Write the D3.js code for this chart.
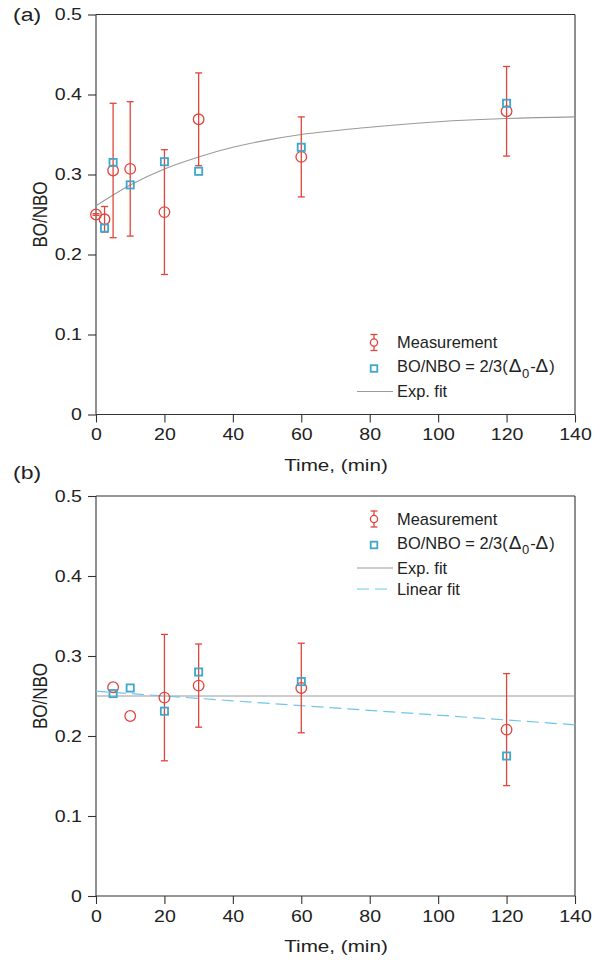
<!DOCTYPE html>
<html><head><meta charset="utf-8">
<script src="https://cdn.jsdelivr.net/npm/d3@7"></script>
<style>body{margin:0;background:#fff}svg{display:block;font-family:"Liberation Sans",Arial,Helvetica,sans-serif}</style>
</head><body><svg id="c" width="600" height="960"></svg>
<script>
// Panel (a)
const aMeasT = [0, 2.5, 5, 10, 20, 30, 60, 120];
const aMeasV = [0.25, 0.244, 0.305, 0.307, 0.253, 0.369, 0.322, 0.379];
const aMeasE = [0.001, 0.016, 0.084, 0.084, 0.078, 0.058, 0.050, 0.056];
const aCalcT = [2.5, 5, 10, 20, 30, 60, 120];
const aCalcV = [0.233, 0.315, 0.287, 0.316, 0.304, 0.334, 0.389];
const aFitT = [0, 10, 20, 30, 40, 50, 60, 80, 100, 120, 140];
const aFitV = [0.261, 0.287, 0.307, 0.322, 0.334, 0.343, 0.350, 0.359, 0.366, 0.370, 0.372];
// Panel (b)
const bMeasT = [5, 10, 20, 30, 60, 120];
const bMeasV = [0.261, 0.225, 0.248, 0.263, 0.260, 0.208];
const bMeasE = [0, 0, 0.079, 0.052, 0.056, 0.070];
const bCalcT = [5, 10, 20, 30, 60, 120];
const bCalcV = [0.253, 0.260, 0.231, 0.280, 0.268, 0.175];
const bExpT = [0, 140];
const bExpV = [0.25, 0.25];
const bLinT = [0, 140];
const bLinV = [0.256, 0.214];
// Axes
const xTicks = [0, 20, 40, 60, 80, 100, 120, 140];
const yTicks = [0, 0.1, 0.2, 0.3, 0.4, 0.5];

const RED = "#e2443b", BLUE = "#3ea7cc", GRAY = "#9a9a9a", LBLUE = "#6cc6ec", AX = "#333", TXT = "#222";
const SX = 1.2;
const svg = d3.select("#c");

function stretch(sel, k) {
  sel.each(function () {
    const t = d3.select(this);
    const x = +t.attr("x") || 0, y = +t.attr("y") || 0;
    t.attr("x", 0).attr("y", 0).attr("transform", `translate(${x},${y}) scale(${k},1)`);
  });
}

function panel(o) {
  const g = svg.append("g");
  const x = d3.scaleLinear().domain([0, 140]).range([96, 575]);
  const y = d3.scaleLinear().domain([0, 0.5]).range([o.y0, o.y0 - 400]);
  // box
  g.append("line").attr("x1", 96).attr("x2", 575).attr("y1", y(0.5)).attr("y2", y(0.5)).attr("stroke", AX).attr("stroke-width", 1.1);
  g.append("line").attr("x1", 575).attr("x2", 575).attr("y1", y(0.5)).attr("y2", y(0)).attr("stroke", AX).attr("stroke-width", 1.1);
  const xa = g.append("g").attr("transform", `translate(0,${y(0)})`)
    .call(d3.axisBottom(x).tickValues(xTicks).tickSize(8).tickPadding(6).tickFormat(d3.format("d")));
  const ya = g.append("g").attr("transform", `translate(96,0)`)
    .call(d3.axisLeft(y).tickValues(yTicks).tickSize(8).tickPadding(6).tickFormat(d => d === 0 ? "0" : d3.format(".1f")(d)));
  [xa, ya].forEach(a => {
    a.selectAll("path,line").attr("stroke", AX).attr("stroke-width", 1.1);
    a.selectAll("text").attr("font-size", 16.3).attr("fill", TXT).attr("font-family", "Liberation Sans, Arial, sans-serif");
    stretch(a.selectAll("text"), SX);
  });
  xa.select(".domain").attr("d", `M96,0H575`);
  ya.select(".domain").attr("d", `M0,${y(0.5)}V${y(0)}`);
  const xt = g.append("text").attr("x", 336).attr("y", y(0) + 56).attr("text-anchor", "middle")
    .attr("font-size", 17.2).attr("fill", TXT).text("Time, (min)");
  stretch(xt, SX);
  g.append("text").attr("transform", `translate(46.5,${(y(0) + y(0.5)) / 2}) scale(${SX},1) rotate(-90)`)
    .attr("text-anchor", "middle").attr("font-size", 17).attr("fill", TXT).text("BO/NBO");
  const lb = g.append("text").attr("x", 13).attr("y", o.labelY).attr("font-size", 18).attr("fill", TXT).text(o.label);
  stretch(lb, 1.28);

  const line = d3.line().x(d => x(d[0])).y(d => y(d[1]));
  // fits
  g.append("path").datum(d3.zip(o.fitT, o.fitV)).attr("d", line.curve(d3.curveMonotoneX))
    .attr("fill", "none").attr("stroke", GRAY).attr("stroke-width", 1.1);
  if (o.linT) {
    g.append("path").datum(d3.zip(o.linT, o.linV)).attr("d", d3.line().x(d => x(d[0])).y(d => y(d[1])))
      .attr("fill", "none").attr("stroke", LBLUE).attr("stroke-width", 1.2).attr("stroke-dasharray", "12,6");
  }
  // error bars
  const md = d3.zip(o.measT, o.measV, o.measE);
  const eb = g.append("g").attr("stroke", RED).attr("stroke-width", 1.3);
  md.filter(d => d[2] > 0).forEach(d => {
    eb.append("line").attr("x1", x(d[0])).attr("x2", x(d[0])).attr("y1", y(d[1] - d[2])).attr("y2", y(d[1] + d[2]));
    [d[1] - d[2], d[1] + d[2]].forEach(v => eb.append("line").attr("x1", x(d[0]) - 3.5).attr("x2", x(d[0]) + 3.5).attr("y1", y(v)).attr("y2", y(v)));
  });
  // circles
  g.append("g").selectAll("circle").data(md).join("circle")
    .attr("cx", d => x(d[0])).attr("cy", d => y(d[1])).attr("r", 5.3)
    .attr("fill", "none").attr("stroke", RED).attr("stroke-width", 1.3);
  // squares
  g.append("g").selectAll("rect").data(d3.zip(o.calcT, o.calcV)).join("rect")
    .attr("x", d => x(d[0]) - 3.6).attr("y", d => y(d[1]) - 3.6).attr("width", 7.2).attr("height", 7.2)
    .attr("fill", "none").attr("stroke", BLUE).attr("stroke-width", 1.8);

  // legend
  const L = g.append("g");
  const sx = o.legX, tx = o.legX + 23;
  let ry = o.legY;
  const lt = (yy) => L.append("text").attr("x", tx).attr("y", yy + 5.8).attr("font-size", 16.4).attr("fill", TXT);
  // measurement
  L.append("line").attr("x1", sx).attr("x2", sx).attr("y1", ry - 8).attr("y2", ry + 8).attr("stroke", RED).attr("stroke-width", 1.3);
  [ry - 8, ry + 8].forEach(v => L.append("line").attr("x1", sx - 3.5).attr("x2", sx + 3.5).attr("y1", v).attr("y2", v).attr("stroke", RED).attr("stroke-width", 1.3));
  L.append("circle").attr("cx", sx).attr("cy", ry).attr("r", 3.6).attr("fill", "#fff").attr("stroke", RED).attr("stroke-width", 1.3);
  lt(ry).text("Measurement");
  ry += 24;
  L.append("rect").attr("x", sx - 3.3).attr("y", ry + 2 - 3.3).attr("width", 6.6).attr("height", 6.6).attr("fill", "none").attr("stroke", BLUE).attr("stroke-width", 1.8);
  const t2 = lt(ry);
  t2.append("tspan").text("BO/NBO = 2/3(");
  t2.append("tspan").attr("font-size", 19).attr("dx", 1).text("Δ");
  t2.append("tspan").attr("font-size", 13).attr("dy", 5.5).attr("dx", 0.5).text("0");
  t2.append("tspan").attr("dy", -5.5).attr("dx", 1).text("-");
  t2.append("tspan").attr("font-size", 19).text("Δ");
  t2.append("tspan").attr("dx", 1).text(")");
  ry += 25;
  L.append("line").attr("x1", sx - 17).attr("x2", sx + 19).attr("y1", ry).attr("y2", ry).attr("stroke", GRAY).attr("stroke-width", 1.1);
  lt(ry).text("Exp. fit");
  if (o.linT) {
    ry += 21;
    L.append("line").attr("x1", sx - 17).attr("x2", sx + 19).attr("y1", ry).attr("y2", ry).attr("stroke", LBLUE).attr("stroke-width", 1.2).attr("stroke-dasharray", "12,6");
    lt(ry).text("Linear fit");
  }
}

panel({y0: 414.5, label: "(a)", labelY: 21, measT: aMeasT, measV: aMeasV, measE: aMeasE,
  calcT: aCalcT, calcV: aCalcV, fitT: aFitT, fitV: aFitV, legX: 374, legY: 342.5});
panel({y0: 896, label: "(b)", labelY: 479, measT: bMeasT, measV: bMeasV, measE: bMeasE,
  calcT: bCalcT, calcV: bCalcV, fitT: bExpT, fitV: bExpV, linT: bLinT, linV: bLinV, legX: 374, legY: 519});
</script></body></html>
